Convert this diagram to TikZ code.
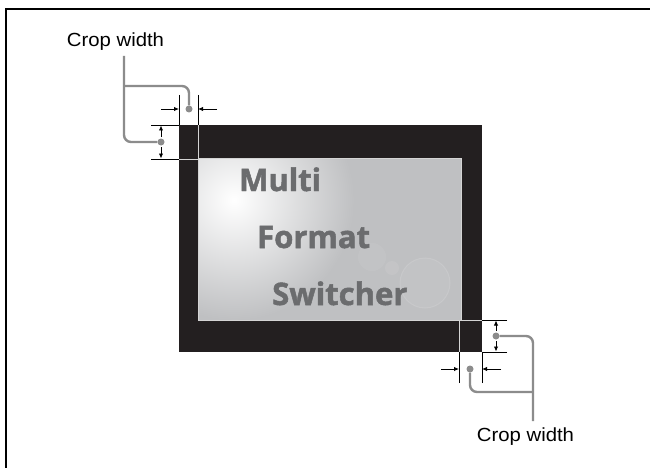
\documentclass[tikz,border=0pt]{standalone}
\usepackage{fontspec}
\setmainfont{Liberation Sans}
\newfontfamily\brandfont{Open Sans}[BoldFeatures={FakeBold=1.6}]
\usetikzlibrary{arrows.meta}
\definecolor{leadgrey}{HTML}{8C8C8C}
\definecolor{panelblack}{HTML}{231F20}
\definecolor{screenbase}{HTML}{BFC0C2}
\definecolor{brandgrey}{HTML}{6B6C6E}
\definecolor{edgelight}{HTML}{D4D4D4}
\begin{document}
\begin{tikzpicture}[x=1pt,y=-1pt,
  frameline/.style={line width=2pt, black},
  cropline/.style={line width=0.9pt, black},
  innerline/.style={line width=0.9pt, edgelight},
  dimarrow/.style={line width=0.9pt, black, -{Latex[length=5pt,width=4.5pt]}},
  leader/.style={line width=2.4pt, leadgrey, rounded corners=7pt},
  dot/.style={circle, fill=leadgrey, inner sep=0pt, minimum size=7pt},
  cwlabel/.style={font=\fontsize{19}{19}\selectfont, inner sep=0pt, anchor=base west},
  brand/.style={font=\brandfont\bfseries\fontsize{31}{31}\selectfont, text=brandgrey, inner sep=0pt, anchor=base west}]
\useasboundingbox (0,0) rectangle (650,468);
\fill[white] (0,0) rectangle (650,468);
% frame
\draw[frameline] (5.7,468) -- (5.7,9) -- (650,9);
% panel
\fill[panelblack] (179,125) rectangle (482,352);
\begin{scope}
  \clip (198,158) rectangle (461,320);
  \fill[screenbase] (198,158) rectangle (461,320);
  \shade[inner color=white, outer color=screenbase] (234,200) circle (120);
  \fill[white, opacity=0.05] (425,283) circle (25);
  \draw[white, opacity=0.12, line width=1pt] (425,283) circle (25);
  \fill[white, opacity=0.06] (372,257) circle (14);
  \fill[white, opacity=0.08] (392,268) circle (7);
\end{scope}
\draw[edgelight, line width=0.8pt] (198,158) rectangle (461,320);
% brand text
\node[brand] (multi) at (239,191) {Multi};
\node[brand] (format) at (257,248) {Format};
\node[brand] (switcher) at (272,305) {Switcher};
% ---------- top-left crop marks ----------
\coordinate (ta) at (179,95);
\coordinate (tb) at (198,95);
\coordinate (tc) at (151,125);
\coordinate (td) at (151,159);
\draw[cropline] (ta) -- (179,125);
\draw[cropline] (tb) -- (198,125);
\draw[innerline] (198,125) -- (198,159) -- (179,159);
\draw[cropline] (tc) -- (179,125);
\draw[cropline] (td) -- (179,159);
\node[dot] (d1) at (189,109) {};
\node[dot] (d2) at (161,142) {};
\draw[dimarrow] (161,109) -- (179,109);
\draw[dimarrow] (217,109) -- (198,109);
\draw[dimarrow] (161,137) -- (161,125.5);
\draw[dimarrow] (161,147) -- (161,158.5);
% label + leader
\node[cwlabel] (lab1) at (66.7,46.7) {\scalebox{1.07}[1]{Crop width}};
\coordinate (l1top) at (124,56);
\coordinate (l1br) at (124,86);
\draw[leader] (l1top) -- (124,142) -- (d2);
\draw[leader] (l1br) -- (189,86) -- (d1);
% ---------- bottom-right crop marks ----------
\coordinate (ba) at (459,383);
\coordinate (bb) at (482,383);
\coordinate (bc) at (507,320);
\coordinate (bd) at (507,352);
\draw[innerline] (459,352) -- (459,320) -- (482,320);
\draw[cropline] (ba) -- (459,352);
\draw[cropline] (bb) -- (482,352);
\draw[cropline] (bc) -- (482,320);
\draw[cropline] (bd) -- (482,352);
\node[dot] (d3) at (496,336) {};
\node[dot] (d4) at (470,369) {};
\draw[dimarrow] (496,331) -- (496,320.5);
\draw[dimarrow] (496,341) -- (496,351.5);
\draw[dimarrow] (441,369) -- (459,369);
\draw[dimarrow] (501,369) -- (482,369);
\node[cwlabel] (lab2) at (476.7,441) {\scalebox{1.07}[1]{Crop width}};
\coordinate (l2bot) at (533,421);
\coordinate (l2j) at (533,392);
\draw[leader] (d3) -- (533,336) -- (l2bot);
\draw[leader] (d4) -- (470,392) -- (l2j);
\end{tikzpicture}
\end{document}
